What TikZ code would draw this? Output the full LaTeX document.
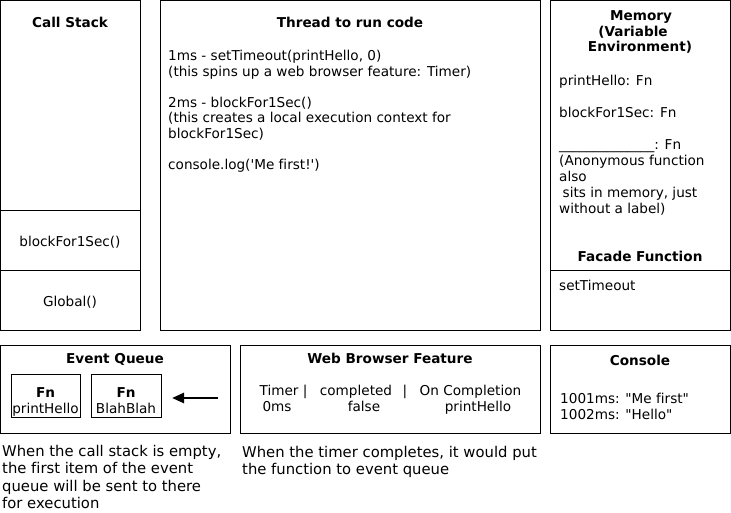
\documentclass[tikz,border=0pt]{standalone}
\usepackage{fontspec}
\setmainfont{DejaVu Sans}[Ligatures={TeXOff,NoCommon}]
\usetikzlibrary{arrows.meta}
\begin{document}
\begin{tikzpicture}[x=1pt,y=-1pt,
  box/.style={draw=black, line width=1pt, inner sep=0pt, outer sep=0pt, anchor=north west},
  ttl/.style={font=\fontsize{13.6}{16}\selectfont\bfseries, inner sep=0pt, text height=10pt, text depth=3.4pt, yshift=-1.8pt},
  txt/.style={font=\fontsize{13.6}{16}\selectfont, inner sep=0pt, text height=10pt, text depth=3.4pt, yshift=-1.8pt},
  lt/.style={txt, anchor=west},
  big/.style={font=\fontsize{14.8}{17}\selectfont, inner sep=0pt, text height=11pt, text depth=3.7pt, anchor=west, yshift=-1.8pt},
  arr/.style={line width=2.5pt, -{Triangle[length=12pt,width=10pt]}},
]
\useasboundingbox (0,0) rectangle (731,512);
\fill[white] (0,0) rectangle (731,512);

% Call stack
\node[box, minimum width=140pt, minimum height=209.5pt] (csTop) at (0.5,0.5) {};
\node[box, minimum width=140pt, minimum height=60pt] (csMid) at (0.5,210) {};
\node[box, minimum width=140pt, minimum height=60pt] (csBot) at (0.5,270) {};
\node[ttl] (csT) at (70,22) {Call Stack};
\node[txt] (csB) at (70,241) {blockFor1Sec()};
\node[txt] (csG) at (70,301) {Global()};

% Thread
\node[box, minimum width=380pt, minimum height=329.5pt] (th) at (160.5,0.5) {};
\node[ttl] (thT) at (350,22) {Thread to run code};
\node[lt] (th1) at (168,55.5) {1ms - setTimeout(printHello, 0)};
\node[lt] (th2) at (168,71) {(this spins up a web browser feature: Timer)};
\node[lt] (th3) at (168,102) {2ms - blockFor1Sec()};
\node[lt] (th4) at (168,117.5) {(this creates a local execution context for};
\node[lt] (th5) at (168,133) {blockFor1Sec)};
\node[lt] (th6) at (168,164.5) {console.log('Me first!')};

% Memory
\node[box, minimum width=180pt, minimum height=269.5pt] (memTop) at (550.5,0.5) {};
\node[box, minimum width=180pt, minimum height=60pt] (memBot) at (550.5,270) {};
\node[ttl] (memT1) at (641,15.5) {Memory};
\node[ttl] (memT2) at (633,31) {(Variable};
\node[ttl] (memT3) at (640,46.6) {Environment)};
\node[lt] (mem1) at (559,80) {printHello: Fn};
\node[lt] (mem2) at (559,112) {blockFor1Sec: Fn};
\node[lt] (mem3) at (559,144) {\_\_\_\_\_\_\_\_\_\_\_\_\_\_: Fn};
\node[lt] (mem4) at (559,160) {(Anonymous function};
\node[lt] (mem5) at (559,176) {also};
\node[lt] (mem6) at (559,192) {\hspace{3.5pt}sits in memory, just};
\node[lt] (mem7) at (559,208) {without a label)};
\node[ttl] (memF) at (640,256) {Facade Function};
\node[lt] (memS) at (559,285) {setTimeout};

% Event queue
\node[box, minimum width=230pt, minimum height=88pt] (eq) at (0.5,345) {};
\node[ttl] (eqT) at (115,358) {Event Queue};
\node[box, minimum width=69pt, minimum height=43pt] (fnA) at (11,374) {};
\node[box, minimum width=70pt, minimum height=43pt] (fnB) at (91,374) {};
\node[ttl] (fnA1) at (fnA.center) [yshift=3.5pt] {Fn};
\node[txt] (fnA2) at (fnA.center) [yshift=-13pt] {printHello};
\node[ttl] (fnB1) at (fnB.center) [yshift=3.5pt] {Fn};
\node[txt] (fnB2) at (fnB.center) [yshift=-13pt] {BlahBlah};
\coordinate (arS) at (218,398);
\coordinate (arE) at (172,398);
\draw[arr] (arS) -- (arE);
\node[big] (eqN1) at (2,451) {When the call stack is empty,};
\node[big] (eqN2) at (2,468.3) {the first item of the event};
\node[big] (eqN3) at (2,485.6) {queue will be sent to there};
\node[big] (eqN4) at (2,503) {for execution};

% Web browser feature
\node[box, minimum width=299.5pt, minimum height=88pt] (wb) at (240.5,345) {};
\node[ttl] (wbT) at (390,358) {Web Browser Feature};
\node[txt] (wb1) at (283.5,390) {Timer |};
\node[txt] (wb2) at (356,390) {completed};
\node[txt] (wb3) at (405,390) {|};
\node[txt] (wb4) at (470.5,390) {On Completion};
\node[txt] (wb5) at (277,406) {0ms};
\node[txt] (wb6) at (364,406) {false};
\node[txt] (wb7) at (478,406) {printHello};
\node[big] (wbN1) at (242,452) {When the timer completes, it would put};
\node[big] (wbN2) at (242,469.5) {the function to event queue};

% Console
\node[box, minimum width=179.5pt, minimum height=88pt] (con) at (550.5,345) {};
\node[ttl] (conT) at (640,360) {Console};
\node[lt] (con1) at (560,398) {1001ms: "Me first"};
\node[lt] (con2) at (560,414) {1002ms: "Hello"};
\end{tikzpicture}
\end{document}
